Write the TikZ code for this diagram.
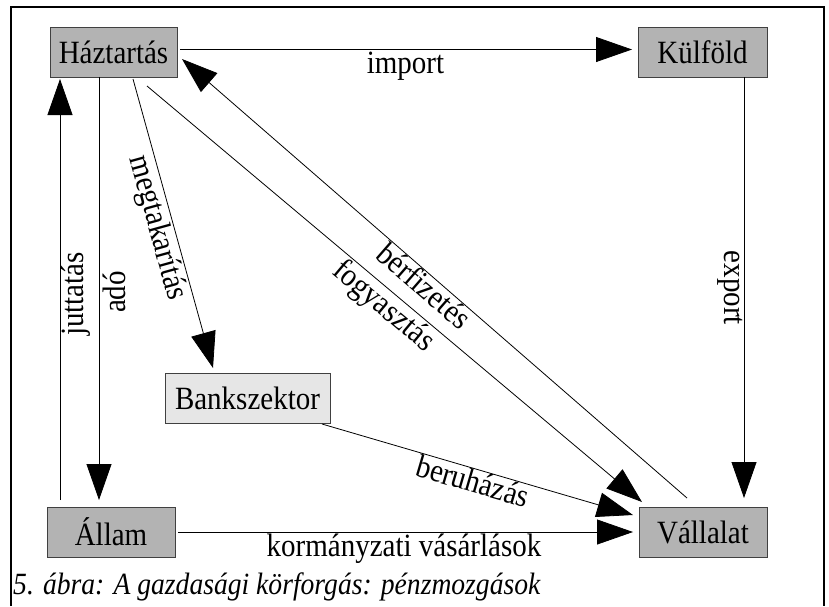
\documentclass[tikz,border=0pt]{standalone}
\usepackage{fontspec}
\setmainfont{Liberation Serif}
\usetikzlibrary{arrows.meta}
\definecolor{boxgray}{RGB}{179,179,179}
\definecolor{banklight}{RGB}{230,230,230}
\newcommand{\tallt}[1]{\scalebox{1}[1.12]{#1}}
\begin{document}
\begin{tikzpicture}[x=1pt,y=-1pt,
  box/.style={draw=black!75, line width=0.9pt, fill=boxgray, minimum height=50pt, inner sep=0pt, font=\fontsize{29}{34}\selectfont},
  lbl/.style={inner sep=0pt, font=\fontsize{29}{34}\selectfont},
  arr/.style={line width=0.8pt, -{Triangle[length=36pt,width=25pt]}},
  frame/.style={line width=1.1pt}]
\useasboundingbox (0,0) rectangle (829,606);
% frame
\coordinate (fbl) at (11,606);
\coordinate (ftl) at (11,7);
\coordinate (ftr) at (824,7);
\coordinate (fbr) at (824,606);
\draw[frame] (fbl) -- (ftl) -- (ftr) -- (fbr);
% nodes
\node[box, minimum width=127pt] (H) at (113.5,52) {\tallt{Háztartás}};
\node[box, minimum width=129pt] (K) at (702.5,52) {\tallt{Külföld}};
\node[box, minimum width=165pt, fill=banklight] (B) at (247.5,398) {\tallt{Bankszektor}};
\node[box, minimum width=128pt] (V) at (703,532) {\tallt{Vállalat}};
\node[box, minimum width=128pt] (A) at (111,532) {\tallt{Állam}};
% connectors
\draw[arr] ([shift={(66.5,-2.5)}]H.center) -- ([shift={(-70.5,-2.5)}]K.center);
\draw[arr] ([shift={(41.5,25)}]K.center) -- ([shift={(41,-34)}]V.center);
\draw[arr] ([shift={(-14.5,25)}]H.center) -- ([shift={(-12,-32)}]A.center);
\draw[arr] ([shift={(-51,-32)}]A.center) -- ([shift={(-53.5,27)}]H.center);
\draw[arr] ([shift={(19.5,27)}]H.center) -- ([shift={(-34.5,-30)}]B.center);
\draw[arr] ([shift={(33.5,34)}]H.center) -- ([shift={(-61,-30)}]V.center);
\draw[arr] ([shift={(-16,-34)}]V.center) -- ([shift={(68.5,7)}]H.center);
\draw[arr] ([shift={(74.5,26)}]B.center) -- ([shift={(-70,-17)}]V.center);
\draw[arr] ([shift={(67,0)}]A.center) -- ([shift={(-70,0)}]V.center);
% labels
\node[lbl, anchor=base] (limport) at (405.5,73) {\tallt{import}};
\node[lbl, rotate=-90] (lexport) at (730,288) {\tallt{export}};
\node[lbl, rotate=90] (ljutt) at (75.5,294) {\tallt{juttatás}};
\node[lbl, rotate=90] (lado) at (114,292) {\tallt{adó}};
\node[lbl, rotate=-74.5] (lmegt) at (157,228) {\tallt{megtakarítás}};
\node[lbl, rotate=-41] (lberf) at (424.5,285.5) {\tallt{bérfizetés}};
\node[lbl, rotate=-40] (lfogy) at (383,307) {\tallt{fogyasztás}};
\node[lbl, rotate=-16.3] (lberu) at (473,481) {\tallt{beruházás}};
\node[lbl, anchor=base] (lkorm) at (404,556) {\tallt{kormányzati vásárlások}};
% caption
\node[inner sep=0pt, anchor=base west, font=\fontsize{27.6}{32}\selectfont\itshape] (cap) at (13,594) {\tallt{5. ábra: A gazdasági körforgás: pénzmozgások}};
\end{tikzpicture}
\end{document}
